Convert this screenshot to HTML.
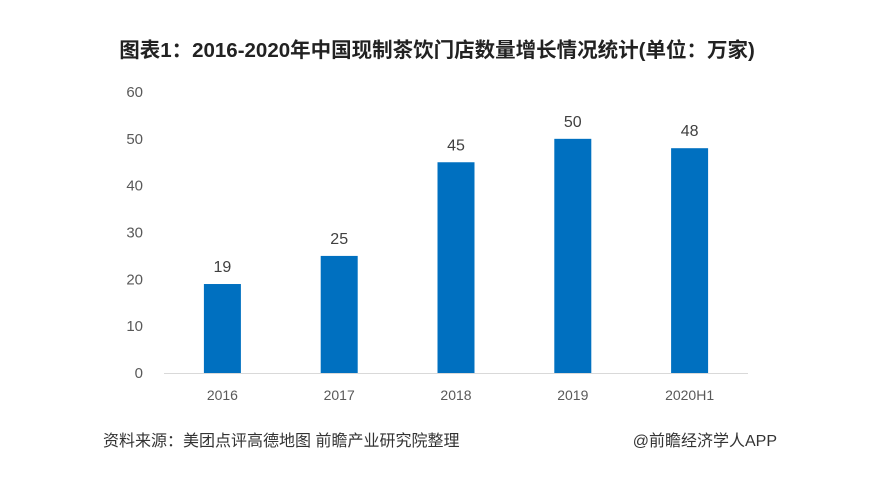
<!DOCTYPE html>
<html><head><meta charset="utf-8"><style>
body{margin:0;background:#fff;}
svg{display:block;}
text{font-family:"Liberation Sans","Noto Sans CJK SC",sans-serif;}
</style></head><body>
<svg width="890" height="480">
<text x="437" y="57" text-anchor="middle" font-size="20.5" font-weight="bold" fill="#222">图表1：2016-2020年中国现制茶饮门店数量增长情况统计(单位：万家)</text>
<g id="yaxis"></g>
<line x1="164" x2="748" y1="373.5" y2="373.5" stroke="#d9d9d9" stroke-width="1"/>
<g id="bars"></g>
<text x="103" y="446" font-size="16" fill="#333">资料来源：美团点评高德地图 前瞻产业研究院整理</text>
<text x="777" y="446" text-anchor="end" font-size="16" fill="#333">@前瞻经济学人APP</text>
</svg>
<script>
const categories=["2016","2017","2018","2019","2020H1"];
const values=[19,25,45,50,48];
const yTicks=[0,10,20,30,40,50,60];
const NS="http://www.w3.org/2000/svg";
const x0=164,x1=748,yBase=373,yTop=92,yMax=60;
const band=(x1-x0)/categories.length;
const y=v=>yBase-(v/yMax)*(yBase-yTop);
const ya=document.getElementById('yaxis');
yTicks.forEach(t=>{
 const e=document.createElementNS(NS,'text');
 e.setAttribute('x',143);e.setAttribute('y',y(t)+5);
 e.setAttribute('text-anchor','end');e.setAttribute('font-size','15');e.setAttribute('fill','#595959');
 e.textContent=t;
 
 
 ya.appendChild(e);
});
const g=document.getElementById('bars');
categories.forEach((c,i)=>{
 const cx=x0+band*(i+0.5),bw=37,v=values[i];
 const r=document.createElementNS(NS,'rect');
 r.setAttribute('x',cx-bw/2);r.setAttribute('y',y(v));r.setAttribute('width',bw);r.setAttribute('height',yBase-y(v));
 r.setAttribute('fill','#0070c0');
 
 
 g.appendChild(r);
 const l=document.createElementNS(NS,'text');
 l.setAttribute('x',cx);l.setAttribute('y',y(v)-12);l.setAttribute('text-anchor','middle');
 l.setAttribute('font-size','16');l.setAttribute('fill','#404040');
 l.textContent=v;
 
 
 g.appendChild(l);
 const xl=document.createElementNS(NS,'text');
 xl.setAttribute('x',cx);xl.setAttribute('y',400);xl.setAttribute('text-anchor','middle');
 xl.setAttribute('font-size','14');xl.setAttribute('fill','#595959');
 xl.textContent=c;
 
 
 g.appendChild(xl);
});
</script>
</body></html>
